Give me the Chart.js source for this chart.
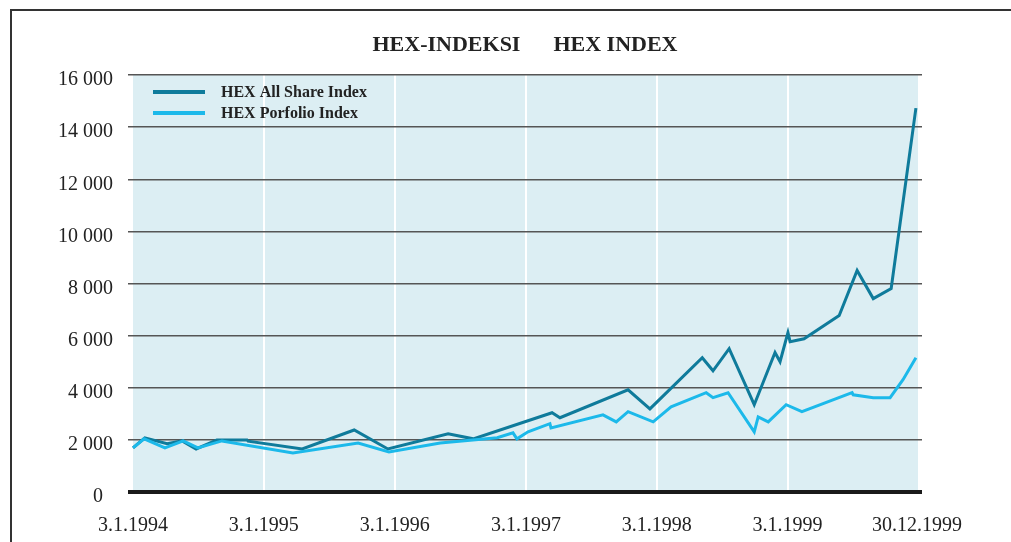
<!DOCTYPE html>
<html>
<head>
<meta charset="utf-8">
<script src="https://cdn.jsdelivr.net/npm/chart.js@4/dist/chart.umd.min.js"></script>
<style>
  html, body { margin: 0; padding: 0; background: #fff; overflow: hidden; }
  #wrap { position: relative; width: 1011px; height: 542px; }
  #frame { position: absolute; left: 10px; top: 9px; width: 1011px; height: 560px;
           border-top: 2px solid #333; border-left: 2px solid #333; pointer-events: none; }
</style>
</head>
<body>
<div id="wrap">
  <canvas id="hex-chart" width="1011" height="542"></canvas>
  <div id="frame"></div>
</div>
<script>
const tickDates = ['1994-01-03', '1995-01-03', '1996-01-03', '1997-01-03', '1998-01-03', '1999-01-03', '1999-12-30'];
const tickLabels = ['3.1.1994', '3.1.1995', '3.1.1996', '3.1.1997', '3.1.1998', '3.1.1999', '30.12.1999'];

const allShareDates = [
  '1994-01-03', '1994-02-05', '1994-04-08', '1994-05-20', '1994-06-28', '1994-08-25', '1994-11-17', '1994-11-20',
  '1995-04-20', '1995-09-12', '1995-12-15', '1996-05-31', '1996-08-09', '1997-03-17', '1997-04-08', '1997-10-15',
  '1997-12-15', '1998-05-10', '1998-06-09', '1998-07-24', '1998-10-02', '1998-11-29', '1998-12-13', '1999-01-04',
  '1999-01-10', '1999-02-18', '1999-05-27', '1999-07-16', '1999-08-30', '1999-10-19', '1999-12-27'
];
const allShareValues = [
  1690, 2080, 1850, 1960, 1650, 2000, 2000, 1950,
  1650, 2380, 1650, 2230, 2040, 3040, 2850, 3920,
  3190, 5150, 4650, 5500, 3350, 5350, 5000, 6120,
  5770, 5880, 6770, 8500, 7420, 7810, 14730
];

const portfolioDates = [
  '1994-01-03', '1994-02-03', '1994-04-02', '1994-05-23', '1994-07-03', '1994-09-08', '1995-03-25', '1995-09-23',
  '1995-12-18', '1996-05-09', '1996-10-15', '1996-11-28', '1996-12-09', '1997-01-09', '1997-03-11', '1997-03-14',
  '1997-08-06', '1997-09-12', '1997-10-15', '1997-12-24', '1998-02-12', '1998-05-21', '1998-06-09', '1998-07-21',
  '1998-10-02', '1998-10-13', '1998-11-10', '1998-12-30', '1999-02-12', '1999-07-02', '1999-07-05', '1999-08-30',
  '1999-10-16', '1999-11-21', '1999-12-27'
];
const portfolioValues = [
  1690, 2040, 1690, 1960, 1690, 1960, 1500, 1880,
  1540, 1880, 2080, 2270, 2040, 2310, 2620, 2460,
  2960, 2690, 3080, 2690, 3270, 3810, 3620, 3810,
  2310, 2880, 2690, 3350, 3080, 3810, 3730, 3620,
  3620, 4310, 5150
];

document.addEventListener("DOMContentLoaded", function () {
  const DAY = 24 * 3600 * 1000;
  const serif = "'Liberation Serif', 'Times New Roman', serif";
  const toPoints = (dates, values) => dates.map((d, i) => ({ x: Date.parse(d), y: values[i] }));

  // light blue plot background, drawn under the grid
  const plotBackground = {
    id: 'plotBackground',
    beforeDraw(chart) {
      const { ctx, chartArea, scales } = chart;
      const x0 = scales.x.getPixelForValue(Date.parse(tickDates[0]));
      const x1 = scales.x.getPixelForValue(Date.parse(tickDates[tickDates.length - 1])) + 1;
      ctx.save();
      ctx.fillStyle = '#dceef3';
      ctx.fillRect(x0, chartArea.top, x1 - x0, chartArea.bottom - chartArea.top);
      ctx.restore();
    }
  };

  // legend sits inside the plot, top left
  const innerLegend = {
    id: 'innerLegend',
    afterDraw(chart) {
      const { ctx, chartArea } = chart;
      ctx.save();
      ctx.font = 'bold 16px ' + serif;
      ctx.textBaseline = 'middle';
      chart.data.datasets.forEach((ds, i) => {
        const y = chartArea.top + 17 + i * 21;
        const x = chartArea.left + 25;
        ctx.strokeStyle = ds.borderColor;
        ctx.lineWidth = 4;
        ctx.beginPath();
        ctx.moveTo(x, y);
        ctx.lineTo(x + 52, y);
        ctx.stroke();
        ctx.fillStyle = '#222';
        ctx.fillText(ds.label, x + 68, y + 1);
      });
      ctx.restore();
    }
  };

  const ctx = document.getElementById('hex-chart').getContext('2d');
  const hexChart = new Chart(ctx, {
    type: 'line',
    data: {
      datasets: [{
        label: 'HEX All Share Index',
        data: toPoints(allShareDates, allShareValues),
        borderColor: '#0f7b9b',
        borderWidth: 3,
        pointRadius: 0,
        tension: 0,
        borderJoinStyle: 'miter',
        order: 1
      }, {
        label: 'HEX Porfolio Index',
        data: toPoints(portfolioDates, portfolioValues),
        borderColor: '#1cb9ea',
        borderWidth: 3,
        pointRadius: 0,
        tension: 0,
        borderJoinStyle: 'miter',
        order: 0
      }]
    },
    options: {
      responsive: false,
      animation: false,
      layout: { padding: { left: 0, right: 89, top: 0, bottom: 0 } },
      plugins: {
        legend: { display: false },
        tooltip: { enabled: false },
        title: {
          display: true,
          text: 'HEX-INDEKSI      HEX INDEX',
          fullSize: false,
          color: '#222',
          font: { family: serif, size: 22, weight: 'bold' },
          padding: { top: 32, bottom: 16.6 }
        }
      },
      scales: {
        x: {
          type: 'linear',
          min: Date.parse(tickDates[0]) - 14 * DAY,
          max: Date.parse(tickDates[tickDates.length - 1]) + 14 * DAY,
          afterBuildTicks: scale => {
            scale.ticks = tickDates.map(d => ({ value: Date.parse(d) }));
          },
          afterFit: scale => { scale.height = 50; },
          ticks: {
            autoSkip: false,
            maxRotation: 0,
            padding: 22,
            color: '#222',
            font: { family: serif, size: 20 },
            callback: (value, index) => tickLabels[index]
          },
          grid: {
            drawTicks: false,
            lineWidth: 2,
            color: c => (c.index > 0 && c.index < tickDates.length - 1) ? '#ffffff' : 'rgba(0,0,0,0)'
          },
          border: { display: false }
        },
        y: {
          min: 0,
          max: 16000,
          afterFit: scale => { scale.width = 128; },
          ticks: {
            stepSize: 2000,
            padding: 15,
            labelOffset: 5,
            color: '#222',
            font: { family: serif, size: 20 },
            callback: v => v === 0 ? '0\u2002' : String(v).replace(/\B(?=(\d{3})+(?!\d))/g, ' ')
          },
          grid: {
            drawTicks: false,
            color: c => c.tick.value === 0 ? '#1a1a1a' : '#555555',
            lineWidth: c => c.tick.value === 0 ? 4 : 1.5
          },
          border: { display: false }
        }
      }
    },
    plugins: [plotBackground, innerLegend]
  });
});
</script>
</body>
</html>
